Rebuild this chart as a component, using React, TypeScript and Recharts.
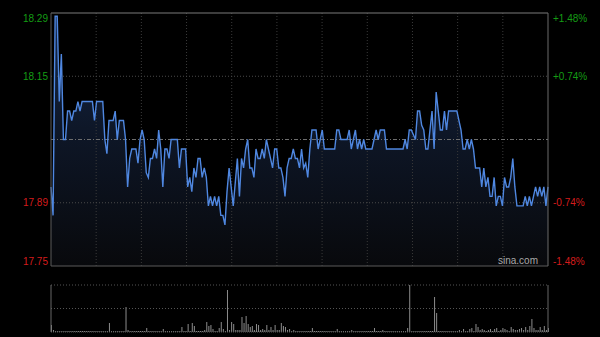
import React from 'react';
import { ComposedChart, Area, Line, XAxis, YAxis, ReferenceLine, BarChart, Bar } from 'recharts';

const prevClose = 18.02;
const pctLevels = [-1.48, -0.74, 0, 0.74, 1.48];
const gridDivisions = [1, 2, 3, 4, 5, 6, 7, 8, 9, 10];

const prices = [
  17.92, 17.86, 18.28, 18.28, 18.10, 18.20, 18.02, 18.02, 18.08, 18.08,
  18.06, 18.08, 18.08, 18.10, 18.08, 18.10, 18.10, 18.10, 18.10, 18.10,
  18.10, 18.06, 18.10, 18.10, 18.10, 18.10, 18.02, 17.99, 18.06, 18.06,
  18.06, 18.08, 18.02, 18.06, 18.06, 18.06, 18.02, 17.92, 17.98, 18.00,
  18.00, 18.00, 17.97, 18.02, 18.04, 18.02, 17.95, 17.94, 17.98, 17.98,
  18.00, 17.98, 18.04, 18.00, 17.92, 18.00, 18.00, 17.98, 18.02, 18.02,
  18.02, 18.02, 17.96, 18.00, 18.00, 18.00, 17.92, 17.94, 17.91, 17.96,
  17.94, 17.98, 17.98, 17.94, 17.96, 17.94, 17.88, 17.90, 17.88, 17.90,
  17.88, 17.90, 17.86, 17.86, 17.84, 17.91, 17.96, 17.92, 17.88, 17.93,
  17.98, 17.90, 17.98, 17.96, 18.00, 18.02, 17.96, 17.96, 17.94, 18.00,
  17.98, 17.98, 18.00, 17.98, 18.02, 18.00, 17.98, 17.96, 18.00, 18.00,
  17.96, 17.96, 17.94, 17.90, 17.96, 17.98, 17.98, 18.00, 17.98, 17.98,
  17.96, 18.00, 17.96, 17.97, 17.94, 18.00, 18.04, 18.04, 18.04, 18.00,
  18.02, 18.04, 18.00, 18.00, 18.00, 18.00, 18.00, 18.00, 18.04, 18.04,
  18.02, 18.02, 18.02, 18.02, 18.04, 18.00, 18.02, 18.04, 18.00, 18.02,
  18.00, 18.02, 18.00, 18.00, 18.00, 18.00, 18.02, 18.04, 18.02, 18.04,
  18.04, 18.04, 18.00, 18.00, 18.00, 18.00, 18.00, 18.00, 18.00, 18.00,
  18.00, 18.02, 18.00, 18.04, 18.04, 18.03, 18.02, 18.08, 18.08, 18.05,
  18.04, 18.00, 18.00, 18.04, 18.08, 18.00, 18.12, 18.08, 18.04, 18.04,
  18.08, 18.04, 18.08, 18.08, 18.08, 18.08, 18.08, 18.06, 18.04, 18.00,
  18.00, 18.02, 18.00, 18.02, 18.00, 17.96, 17.96, 17.96, 17.92, 17.96,
  17.92, 17.94, 17.90, 17.90, 17.94, 17.88, 17.90, 17.90, 17.88, 17.94,
  17.92, 17.92, 17.94, 17.98, 17.92, 17.88, 17.88, 17.88, 17.88, 17.90,
  17.88, 17.90, 17.88, 17.90, 17.92, 17.90, 17.92, 17.90, 17.92, 17.88,
  17.92,
];

const volumes = [
  7, 2, 1, 1, 1, 1, 1, 1, 1, 1,
  1, 1, 1, 1, 1, 1, 1, 1, 1, 1,
  1, 1, 1, 1, 1, 1, 1, 1, 9, 1,
  1, 1, 1, 1, 1, 1, 25, 2, 1, 1,
  1, 1, 1, 1, 1, 1, 4, 1, 1, 1,
  1, 1, 1, 1, 3, 1, 1, 1, 1, 1,
  1, 1, 1, 5, 1, 1, 8, 1, 9, 6,
  1, 1, 1, 1, 2, 10, 6, 7, 3, 1,
  1, 4, 10, 3, 1, 42, 2, 10, 8, 2,
  2, 2, 15, 9, 16, 8, 5, 6, 2, 8,
  7, 2, 3, 2, 7, 2, 5, 2, 7, 2,
  2, 9, 6, 5, 2, 3, 1, 2, 1, 1,
  1, 1, 1, 1, 1, 1, 4, 1, 1, 1,
  1, 1, 1, 1, 1, 1, 1, 1, 3, 1,
  1, 1, 1, 1, 1, 2, 1, 1, 1, 1,
  1, 1, 1, 1, 1, 1, 4, 1, 1, 1,
  2, 1, 1, 1, 1, 1, 1, 1, 1, 1,
  1, 1, 4, 47, 1, 1, 1, 1, 1, 1,
  1, 1, 1, 1, 1, 35, 19, 1, 1, 1,
  1, 1, 1, 1, 1, 1, 1, 2, 1, 3,
  1, 1, 3, 4, 1, 8, 5, 2, 3, 2,
  1, 2, 3, 1, 3, 4, 1, 2, 4, 3,
  2, 1, 5, 3, 2, 2, 3, 4, 2, 5,
  2, 6, 13, 4, 2, 2, 5, 2, 6, 2,
  4,
];

const lastIndex = prices.length - 1;
const priceTicks = pctLevels.map((p) => prevClose * (1 + p / 100));
const yLo = priceTicks[0];
const yHi = priceTicks[priceTicks.length - 1];
const volMax = Math.max(...volumes);

const data = prices.map((p, i) => ({ i, p, v: volumes[i] }));

const GREEN = '#149c14';
const RED = '#d41c1c';
const FONT = '"Liberation Sans", Arial, sans-serif';

const colorFor = (val: number) => (val > prevClose + 1e-6 ? GREEN : val < prevClose - 1e-6 ? RED : 'none');
const edgeShift = (val: number) => (Math.abs(val - yHi) < 1e-6 ? 5 : Math.abs(val - yLo) < 1e-6 ? -5 : 0);

const LeftTick = (props: any) => {
  const { x, y, payload } = props;
  const val = payload.value as number;
  const c = colorFor(val);
  if (c === 'none') return null;
  return (
    <text x={x} y={y + edgeShift(val)} dy="0.355em" textAnchor="end" fill={c} fontSize={10} fontFamily={FONT}>
      {val.toFixed(2)}
    </text>
  );
};

const RightTick = (props: any) => {
  const { x, y, payload } = props;
  const val = payload.value as number;
  const c = colorFor(val);
  if (c === 'none') return null;
  const pct = ((val - prevClose) / prevClose) * 100;
  const label = (pct > 0 ? '+' : '') + pct.toFixed(2) + '%';
  return (
    <text x={x} y={y + edgeShift(val)} dy="0.355em" textAnchor="start" fill={c} fontSize={10} fontFamily={FONT}>
      {label}
    </text>
  );
};

export default function App() {
  return (
    <div style={{ position: 'absolute', left: 0, top: 0, width: 600, height: 337, background: '#000', overflow: 'hidden' }}>
      <div style={{ position: 'absolute', left: 0, top: 0 }}>
        <ComposedChart width={600} height={270} data={data} margin={{ top: 13, right: 0, bottom: 4, left: 0 }}>
          <defs>
            <linearGradient id="areaFill" x1="0" y1="0" x2="0" y2="1">
              <stop offset="0%" stopColor="#15284a" />
              <stop offset="45%" stopColor="#0e1728" />
              <stop offset="100%" stopColor="#08090c" />
            </linearGradient>
          </defs>
          <XAxis dataKey="i" type="number" domain={[0, lastIndex]} hide />
          <YAxis
            yAxisId="p"
            orientation="left"
            width={51}
            domain={[yLo, yHi]}
            ticks={priceTicks}
            axisLine={false}
            tickLine={false}
            tickSize={0}
            tickMargin={3}
            tick={<LeftTick />}
            interval={0}
            allowDataOverflow
          />
          <YAxis
            yAxisId="r"
            orientation="right"
            width={52}
            domain={[yLo, yHi]}
            ticks={priceTicks}
            axisLine={false}
            tickLine={false}
            tickSize={0}
            tickMargin={5}
            tick={<RightTick />}
            interval={0}
            allowDataOverflow
          />
          <Area
            yAxisId="p"
            type="linear"
            dataKey="p"
            baseValue={yLo}
            stroke="none"
            fill="url(#areaFill)"
            fillOpacity={1}
            isAnimationActive={false}
          />
          {gridDivisions.map((k) => (
            <ReferenceLine key={'vx' + k} yAxisId="p" x={(lastIndex * k) / 11} stroke="#3a3a3a" strokeDasharray="1 2" />
          ))}
          <ReferenceLine yAxisId="p" y={priceTicks[1]} stroke="#4a4a4a" strokeDasharray="1 2" />
          <ReferenceLine yAxisId="p" y={priceTicks[3]} stroke="#4a4a4a" strokeDasharray="1 2" />
          <ReferenceLine yAxisId="p" y={priceTicks[2]} stroke="#6e6e6e" strokeDasharray="4 2 1 2" />
          <Line
            yAxisId="p"
            type="linear"
            dataKey="p"
            stroke="#4f87e0"
            strokeWidth={1.4}
            dot={false}
            activeDot={false}
            isAnimationActive={false}
          />
          <ReferenceLine yAxisId="p" y={yHi} stroke="#7a7a7a" />
          <ReferenceLine yAxisId="p" y={yLo} stroke="#5a5a5a" />
          <ReferenceLine yAxisId="p" x={0} stroke="#5a5a5a" />
          <ReferenceLine yAxisId="p" x={lastIndex} stroke="#6a6a6a" />
        </ComposedChart>
      </div>
      <div
        style={{
          position: 'absolute',
          left: 498,
          top: 255,
          fontFamily: FONT,
          fontSize: 10,
          color: '#a8a8a8',
          lineHeight: '12px',
        }}
      >
        sina.com
      </div>
      <div style={{ position: 'absolute', left: 0, top: 275 }}>
        <BarChart width={600} height={62} data={data} margin={{ top: 10, right: 52, bottom: 5, left: 51 }}>
          <XAxis dataKey="i" type="number" domain={[0, lastIndex]} hide />
          <YAxis domain={[0, volMax]} hide />
          <ReferenceLine y={volMax} stroke="#555" strokeDasharray="1 2" />
          <ReferenceLine y={volMax / 2} stroke="#555" strokeDasharray="1 2" />
          <Bar dataKey="v" fill="#8c8c8c" barSize={1} isAnimationActive={false} />
          <ReferenceLine y={0} stroke="#555" strokeDasharray="1 1" />
          <ReferenceLine x={0} stroke="#666" />
          <ReferenceLine x={lastIndex} stroke="#666" />
        </BarChart>
      </div>
    </div>
  );
}
